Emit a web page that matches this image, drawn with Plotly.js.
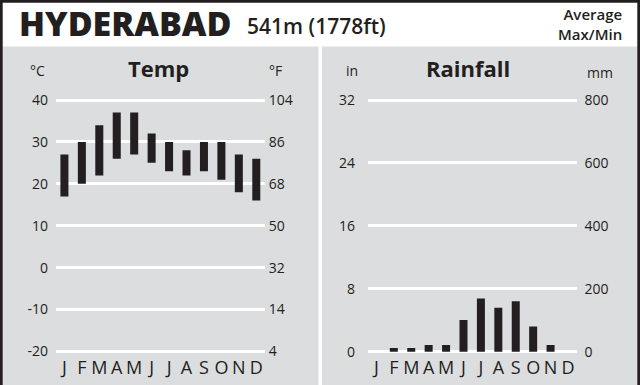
<!DOCTYPE html>
<html>
<head>
<meta charset="utf-8">
<script src="https://cdn.plot.ly/plotly-3.0.1.min.js"></script>
<style>html,body{margin:0;padding:0;background:#fff;}#chart{width:640px;height:385px;}</style>
</head>
<body>
<div id="chart"></div>
<script>
// ---- data ----
const months = ['Jan','Feb','Mar','Apr','May','Jun','Jul','Aug','Sep','Oct','Nov','Dec'];
const monthLetters = ['J','F','M','A','M','J','J','A','S','O','N','D'];
const tempMaxC = [27, 30, 34, 37, 37, 32, 30, 28, 30, 30, 27, 26];
const tempMinC = [17, 20, 22, 26, 27, 25, 23, 22, 23, 21, 18, 16];
const rainMm   = [0, 12, 12, 21, 21, 101, 169, 140, 160, 80, 21, 0];
const tempTicksC = [-20, -10, 0, 10, 20, 30, 40];
const tempTicksF = ['4', '14', '32', '50', '68', '86', '104'];
const rainTicksMm = [0, 200, 400, 600, 800];
const rainTicksIn = ['0', '8', '16', '24', '32'];
const rainTicksMmText = ['0', '200', '400', '600', '800'];

// ---- layout helpers (pixel -> paper) ----
const W = 640, H = 385;
const px = v => v / W;
const py = v => 1 - v / H;
const INK = '#231f20';
const GREY = '#dcdddf';
const FONT = 'Open Sans';

const tempRange = [-20.5, 40.5];
const rainRange = [-8, 808];

const traces = [
  {
    type: 'bar', x: months, y: tempMaxC.map((v, i) => v - tempMinC[i]), base: tempMinC,
    width: 0.46, marker: {color: INK, line: {width: 0}}, xaxis: 'x', yaxis: 'y', hoverinfo: 'skip'
  },
  {
    type: 'scatter', mode: 'markers', x: months, y: tempMaxC, marker: {opacity: 0},
    xaxis: 'x', yaxis: 'y3', hoverinfo: 'skip', showlegend: false
  },
  {
    type: 'bar', x: months, y: rainMm,
    width: 0.46, marker: {color: INK, line: {width: 0}}, xaxis: 'x2', yaxis: 'y2', hoverinfo: 'skip'
  },
  {
    type: 'scatter', mode: 'markers', x: months, y: rainMm, marker: {opacity: 0},
    xaxis: 'x2', yaxis: 'y4', hoverinfo: 'skip', showlegend: false
  }
];

const tickFont = {family: FONT, size: 14, color: INK};
const monthFont = {family: FONT, size: 18, color: INK};

const xCommon = {
  type: 'category', range: [-0.5, 11.5], tickvals: months, ticktext: monthLetters,
  showgrid: false, zeroline: false, showline: false, ticks: '', ticklen: 0,
  ticklabelstandoff: 1, tickfont: monthFont, fixedrange: true
};
const yCommon = {
  showgrid: true, gridcolor: '#ffffff', gridwidth: 3, zeroline: false, showline: false,
  ticks: 'outside', tickcolor: 'rgba(0,0,0,0)', tickfont: tickFont, fixedrange: true
};

const layout = {
  width: W, height: H,
  margin: {l: 0, r: 0, t: 0, b: 0, pad: 0},
  paper_bgcolor: '#ffffff', plot_bgcolor: 'rgba(0,0,0,0)',
  showlegend: false, barmode: 'overlay',
  xaxis: Object.assign({}, xCommon, {domain: [px(55.7), px(265)], anchor: 'y'}),
  yaxis: Object.assign({}, yCommon, {domain: [py(353.6), py(97.9)], range: tempRange, tickvals: tempTicksC, ticktext: tempTicksC.map(String), anchor: 'x', ticklen: 4}),
  yaxis3: Object.assign({}, yCommon, {overlaying: 'y', side: 'right', anchor: 'x', range: tempRange, tickvals: tempTicksC, ticktext: tempTicksF, showgrid: false, ticklen: 0}),
  xaxis2: Object.assign({}, xCommon, {domain: [px(367.7), px(576.7)], anchor: 'y2'}),
  yaxis2: Object.assign({}, yCommon, {domain: [py(354.2), py(97.5)], range: rainRange, tickvals: rainTicksMm, ticktext: rainTicksIn, anchor: 'x2', ticklen: 9}),
  yaxis4: Object.assign({}, yCommon, {overlaying: 'y2', side: 'right', anchor: 'x2', range: rainRange, tickvals: rainTicksMm, ticktext: rainTicksMmText, showgrid: false, ticklen: 4}),
  shapes: [
    {type: 'rect', xref: 'paper', yref: 'paper', x0: px(2.5), x1: px(318.5), y0: 0, y1: py(46.5), fillcolor: GREY, line: {width: 0}, layer: 'below'},
    {type: 'rect', xref: 'paper', yref: 'paper', x0: px(322), x1: px(637.5), y0: 0, y1: py(46.5), fillcolor: GREY, line: {width: 0}, layer: 'below'},
    {type: 'rect', xref: 'paper', yref: 'paper', x0: 0, x1: px(2.7), y0: 0, y1: 1, fillcolor: INK, line: {width: 0}, layer: 'below'},
    {type: 'rect', xref: 'paper', yref: 'paper', x0: px(637.3), x1: 1, y0: 0, y1: 1, fillcolor: INK, line: {width: 0}, layer: 'below'},
    {type: 'rect', xref: 'paper', yref: 'paper', x0: 0, x1: 1, y0: py(2.7), y1: 1, fillcolor: INK, line: {width: 0}, layer: 'below'}
  ],
  annotations: [
    {xref: 'paper', yref: 'paper', x: px(17), y: py(23), xanchor: 'left', yanchor: 'middle', showarrow: false,
     text: 'HYDERABAD', font: {family: FONT, size: 34, weight: 800, color: INK}},
    {xref: 'paper', yref: 'paper', x: px(245), y: py(26), xanchor: 'left', yanchor: 'middle', showarrow: false,
     text: '541m (1778ft)', font: {family: FONT, size: 21, weight: 600, color: INK}},
    {xref: 'paper', yref: 'paper', x: px(624), y: py(24), xanchor: 'right', yanchor: 'middle', showarrow: false, align: 'right',
     text: 'Average<br>Max/Min', font: {family: FONT, size: 15, weight: 600, color: INK}},
    {xref: 'paper', yref: 'paper', x: px(37), y: py(71), xanchor: 'center', yanchor: 'middle', showarrow: false,
     text: '°C', font: {family: FONT, size: 14, color: INK}},
    {xref: 'paper', yref: 'paper', x: px(158), y: py(68), xanchor: 'center', yanchor: 'middle', showarrow: false,
     text: 'Temp', font: {family: FONT, size: 22, weight: 700, color: INK}},
    {xref: 'paper', yref: 'paper', x: px(275), y: py(71), xanchor: 'center', yanchor: 'middle', showarrow: false,
     text: '°F', font: {family: FONT, size: 14, color: INK}},
    {xref: 'paper', yref: 'paper', x: px(352), y: py(71), xanchor: 'center', yanchor: 'middle', showarrow: false,
     text: 'in', font: {family: FONT, size: 14, color: INK}},
    {xref: 'paper', yref: 'paper', x: px(468), y: py(68), xanchor: 'center', yanchor: 'middle', showarrow: false,
     text: 'Rainfall', font: {family: FONT, size: 22, weight: 700, color: INK}},
    {xref: 'paper', yref: 'paper', x: px(600), y: py(72), xanchor: 'center', yanchor: 'middle', showarrow: false,
     text: 'mm', font: {family: FONT, size: 14, color: INK}}
  ]
};

Plotly.newPlot('chart', traces, layout, {staticPlot: true, displayModeBar: false});
</script>
</body>
</html>
